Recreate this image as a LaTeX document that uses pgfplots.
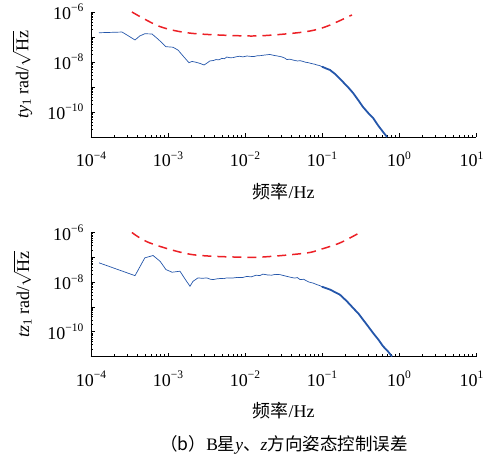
\documentclass[border=0pt]{standalone}
\usepackage{fontspec}
\setmainfont{Liberation Serif}
\newfontfamily\cjk{Noto Sans CJK SC}
\usepackage{pgfplots}
\pgfplotsset{compat=1.18}
\definecolor{myblue}{RGB}{36,86,170}
\definecolor{myred}{RGB}{236,32,38}
\newcommand{\tl}[1]{10\raisebox{0.42em}{\fontsize{11.5bp}{12bp}\selectfont #1}}
\pgfplotsset{
  myaxis/.style={
    scale only axis, width=385bp,
    xmin=1e-4, xmax=10, ymin=1e-11, ymax=1e-6,
    axis lines*=left,
    axis line style={line width=0.9pt},
    every tick/.style={black, line width=0.6pt},
    major tick length=4bp, minor tick length=2.5bp,
    tick align=inside,
    xtick={1e-4,1e-3,1e-2,1e-1,1,10},
    xticklabels={\tl{−4},\tl{−3},\tl{−2},\tl{−1},\tl{0},\hspace*{-9bp}\tl{1}},
    ytick={1e-11,1e-10,1e-9,1e-8,1e-7,1e-6},
    yticklabels={,\tl{−10},,\tl{−8},,\tl{−6}},
    tick label style={font=\fontsize{18bp}{20bp}\selectfont},
    xticklabel style={yshift=-11bp},
    yticklabel style={xshift=-4bp},
    label style={font=\fontsize{18bp}{20bp}\selectfont},
    xlabel={{\cjk 频率}/Hz},
    xlabel style={at={(axis description cs:0.5,-0.436)}, anchor=center},
    ylabel style={at={(axis description cs:-0.178,0.5)}, anchor=center, inner sep=0pt},
    clip=true,
  },
}
\tikzset{
  blueline/.style={myblue, line width=0.7pt},
  bluethick/.style={myblue, line width=1.8pt},
  redline/.style={myred, line width=1.5pt, dash pattern=on 9bp off 6bp},
}
\begin{document}
\begin{tikzpicture}
\useasboundingbox (0,0) rectangle (485bp,463bp);
% ---------- top ----------
\begin{loglogaxis}[myaxis, height=125bp, at={(91bp,326bp)}, anchor=south west,
  ylabel={\textit{ty}\textsubscript{1} rad/$\sqrt{\mbox{Hz}}$}]
\addplot[blueline, no marks] coordinates {
(1.27e-4,1.48e-7)(2.53e-4,1.58e-7)(3.0e-4,1.15e-7)(3.73e-4,7.6e-8)(4.3e-4,1.1e-7)
(5.0e-4,1.35e-7)(6.2e-4,1.32e-7)(7.5e-4,8.0e-8)(9.4e-4,4.1e-8)(1.16e-3,3.9e-8)
(1.35e-3,3.0e-8)(1.57e-3,1.74e-8)(1.87e-3,9.4e-9)(2.05e-3,1.05e-8)(2.24e-3,1.0e-8)
(2.6e-3,8.8e-9)(2.94e-3,7.6e-9)(3.2e-3,9.0e-9)(3.5e-3,1.1e-8)(3.9e-3,1.15e-8)(4.2e-3,1.25e-8)
(4.6e-3,1.22e-8)(5.0e-3,1.4e-8)(5.4e-3,1.35e-8)(5.8e-3,1.58e-8)(6.4e-3,1.48e-8)(7.0e-3,1.5e-8)
(7.7e-3,1.62e-8)(8.5e-3,1.7e-8)(9.4e-3,1.6e-8)(1.06e-2,1.74e-8)(1.17e-2,1.68e-8)(1.3e-2,1.65e-8)
(1.45e-2,1.78e-8)(1.6e-2,1.8e-8)(1.8e-2,1.9e-8)(2.1e-2,2.0e-8)(2.35e-2,1.85e-8)(2.6e-2,1.75e-8)
(2.8e-2,1.68e-8)(3.0e-2,1.6e-8)(3.3e-2,1.42e-8)(3.5e-2,1.25e-8)(3.8e-2,1.3e-8)(4.2e-2,1.2e-8)
(4.5e-2,1.14e-8)(4.8e-2,1.1e-8)(5.2e-2,1.13e-8)(5.7e-2,1.05e-8)(6.1e-2,9.8e-9)(6.5e-2,9.5e-9)
(7.0e-2,9.0e-9)(7.5e-2,8.5e-9)(8.0e-2,8.2e-9)(8.6e-2,7.6e-9)(0.093,7.2e-9)(0.1,6.5e-9)
};
\addplot[bluethick, no marks] coordinates {
(0.1,6.5e-9)(0.115,5.4e-9)(0.127,4.8e-9)(0.15,3.2e-9)(0.187,1.6e-9)(0.22,9.5e-10)
(0.253,5.8e-10)(0.3,2.8e-10)(0.34,1.6e-10)(0.4,9.0e-11)(0.46,5.8e-11)(0.54,2.8e-11)
(0.62,1.6e-11)(0.70,1.0e-11)
};
\addplot[redline, no marks, smooth] coordinates {
(3.4e-4,1.0e-6)(7.9e-4,2.6e-7)(2.05e-3,1.4e-7)(1.06e-2,1.1e-7)(2.3e-2,1.2e-7)
(5.5e-2,1.55e-7)(8.6e-2,2.0e-7)(0.127,3.0e-7)(0.245,7.6e-7)
};
\end{loglogaxis}
% ---------- bottom ----------
\begin{loglogaxis}[myaxis, height=124bp, at={(91bp,106.5bp)}, anchor=south west,
  ylabel={\textit{tz}\textsubscript{1} rad/$\sqrt{\mbox{Hz}}$}]
\addplot[blueline, no marks] coordinates {
(1.27e-4,6.0e-8)(3.73e-4,1.82e-8)(5.0e-4,9.5e-8)(6.4e-4,1.18e-7)(7.9e-4,6.9e-8)
(9.4e-4,3.2e-8)(1.13e-3,2.5e-8)(1.43e-3,2.75e-8)(1.66e-3,1.35e-8)(1.93e-3,6.8e-9)
(2.11e-3,1.07e-8)(2.45e-3,1.48e-8)(2.8e-3,1.42e-8)(3.2e-3,1.48e-8)(3.5e-3,1.32e-8)(3.84e-3,1.26e-8)
(4.3e-3,1.35e-8)(4.8e-3,1.4e-8)(5.3e-3,1.38e-8)(5.8e-3,1.48e-8)(6.8e-3,1.45e-8)(8.0e-3,1.55e-8)
(9.2e-3,1.52e-8)(1.06e-2,1.7e-8)(1.2e-2,1.62e-8)(1.4e-2,1.9e-8)(1.55e-2,1.82e-8)(1.71e-2,2.1e-8)
(1.95e-2,1.95e-8)(2.2e-2,1.9e-8)(2.5e-2,2.05e-8)(2.85e-2,2.0e-8)(3.3e-2,1.78e-8)(3.8e-2,1.6e-8)
(4.4e-2,1.45e-8)(4.8e-2,1.52e-8)(5.2e-2,1.26e-8)(5.8e-2,1.3e-8)(6.2e-2,1.15e-8)(6.8e-2,1.0e-8)
(7.6e-2,9.2e-9)(8.6e-2,7.9e-9)(0.093,7.3e-9)(0.1,6.5e-9)
};
\addplot[bluethick, no marks] coordinates {
(0.1,6.5e-9)(0.127,5.0e-9)(0.171,3.1e-9)(0.21,1.7e-9)(0.253,9.1e-10)(0.3,5.2e-10)
(0.34,3.1e-10)(0.4,1.6e-10)(0.46,8.9e-11)(0.54,4.8e-11)(0.62,2.6e-11)(0.72,1.6e-11)
(0.81,1.0e-11)
};
\addplot[redline, no marks, smooth] coordinates {
(3.4e-4,1.0e-6)(5.8e-4,3.8e-7)(2.05e-3,1.29e-7)(1.06e-2,1.0e-7)(2.3e-2,1.1e-7)
(6.4e-2,1.5e-7)(9.4e-2,2.05e-7)(0.171,3.8e-7)(0.312,1.0e-6)
};
\end{loglogaxis}
\node[font=\fontsize{17.5bp}{20bp}\selectfont] at (284bp,18bp)
  {{\cjk （b）}B{\cjk 星}\textit{y}{\cjk 、}\textit{z}{\cjk 方向姿态控制误差}};
\end{tikzpicture}
\end{document}
